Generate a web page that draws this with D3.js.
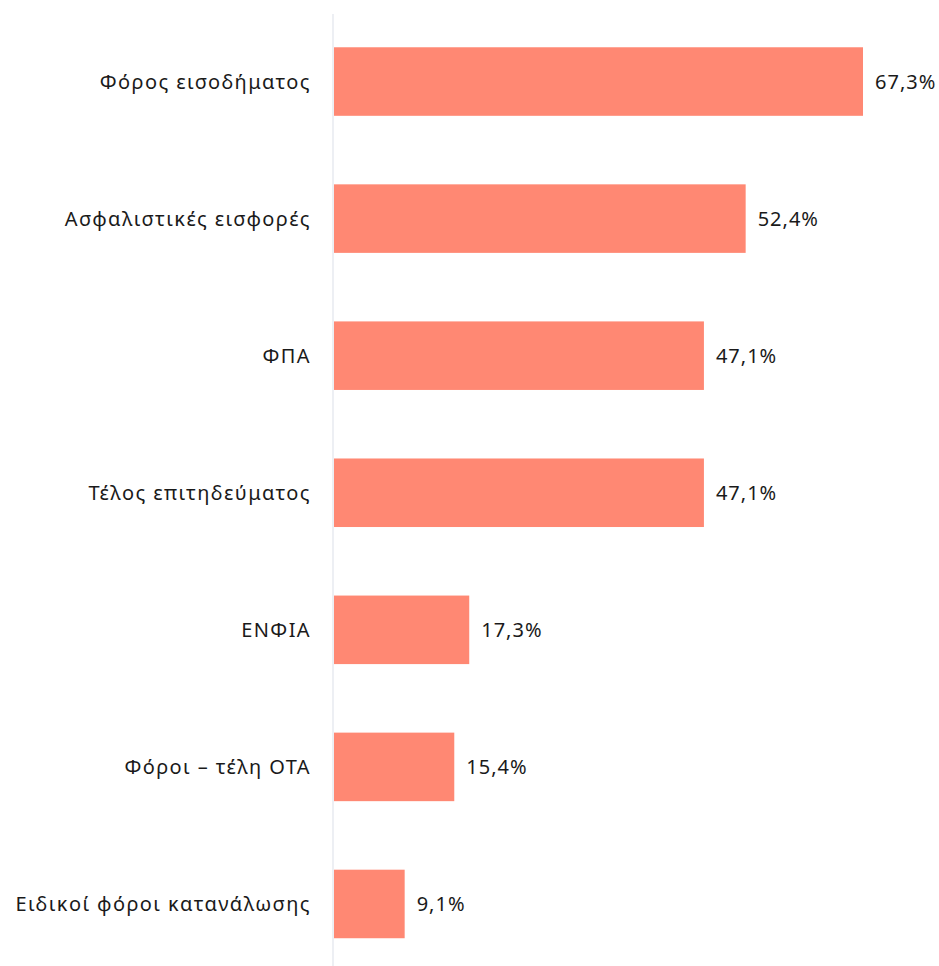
<!DOCTYPE html>
<html>
<head>
<meta charset="utf-8">
<script src="https://cdn.jsdelivr.net/npm/d3@7"></script>
<style>
  body { margin: 0; background: #fff; }
  text { font-family: "Noto Sans", Lato, sans-serif; fill: #1a1a1a; }
</style>
</head>
<body>
<div id="chart"></div>
<script>
const categories = [
  "Φόρος εισοδήματος",
  "Ασφαλιστικές εισφορές",
  "ΦΠΑ",
  "Τέλος επιτηδεύματος",
  "ΕΝΦΙΑ",
  "Φόροι – τέλη ΟΤΑ",
  "Ειδικοί φόροι κατανάλωσης"
];
const values = [67.3, 52.4, 47.1, 47.1, 17.3, 15.4, 9.1];

const width = 939,
      height = 966,
      margin = { top: 13, right: 76, bottom: 0, left: 333 };

const svg = d3.select("#chart")
  .append("svg")
  .attr("width", width)
  .attr("height", height);

const x = d3.scaleLinear()
  .domain([0, 67.3])
  .range([margin.left, 863]);

const y = d3.scaleBand()
  .domain(categories)
  .range([margin.top, 972.5])
  .paddingInner(0.5)
  .paddingOuter(0.25);

// vertical baseline
svg.append("line")
  .attr("x1", margin.left).attr("x2", margin.left)
  .attr("y1", 14).attr("y2", height)
  .attr("stroke", "#e1e4ec")
  .attr("stroke-width", 1.2);

const data = categories.map((c, i) => ({ cat: c, value: values[i] }));

svg.selectAll("rect.bar")
  .data(data)
  .join("rect")
  .attr("class", "bar")
  .attr("x", x(0) + 1)
  .attr("y", d => y(d.cat))
  .attr("width", d => x(d.value) - x(0) - 1)
  .attr("height", y.bandwidth())
  .attr("fill", "#ff8873");

// category labels
svg.selectAll("text.cat")
  .data(data)
  .join("text")
  .attr("class", "cat")
  .attr("x", margin.left - 22)
  .attr("y", d => y(d.cat) + y.bandwidth() / 2 + 2)
  .attr("text-anchor", "end")
  .attr("dominant-baseline", "middle")
  .attr("font-size", "20px")
  .attr("letter-spacing", "1.4px")
  .text(d => d.cat);

// value labels
svg.selectAll("text.val")
  .data(data)
  .join("text")
  .attr("class", "val")
  .attr("x", d => x(d.value) + 12)
  .attr("y", d => y(d.cat) + y.bandwidth() / 2 + 2)
  .attr("dominant-baseline", "middle")
  .attr("font-size", "20px")
  .attr("letter-spacing", "1px")
  .text(d => d.value.toFixed(1).replace(".", ",") + "%");
</script>
</body>
</html>
